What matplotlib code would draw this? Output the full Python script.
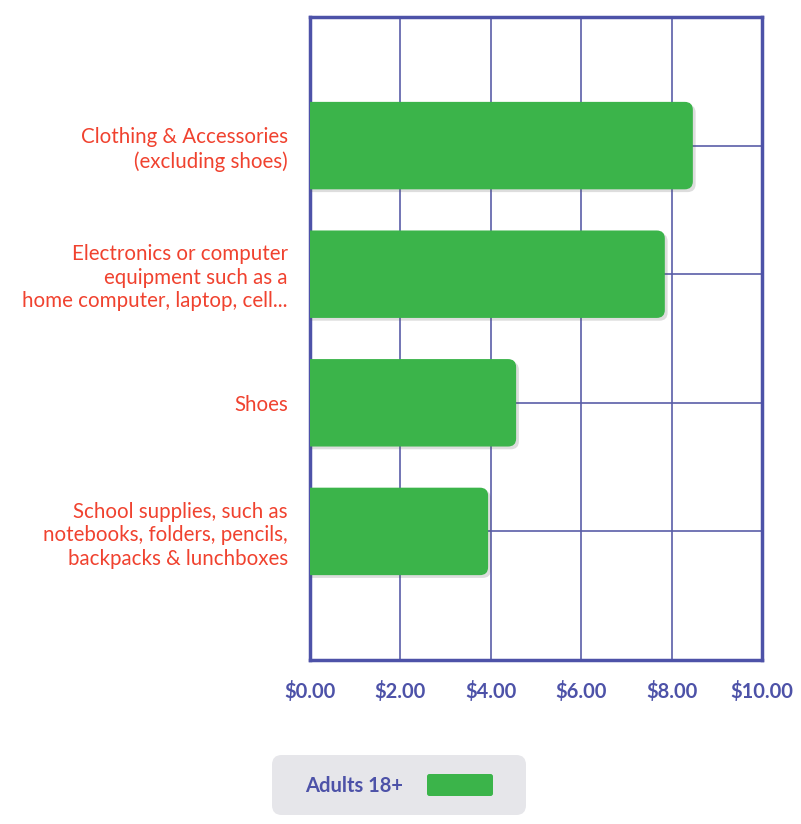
import matplotlib
matplotlib.use("Agg")
import matplotlib.pyplot as plt
from matplotlib.patches import FancyBboxPatch
import matplotlib.patheffects as pe

categories = [
    "Clothing & Accessories\n(excluding shoes)",
    "Electronics or computer\nequipment such as a\nhome computer, laptop, cell...",
    "Shoes",
    "School supplies, such as\nnotebooks, folders, pencils,\nbackpacks & lunchboxes",
]
values = [8.47, 7.85, 4.56, 3.94]
xticks = [0, 2, 4, 6, 8, 10]
xtick_labels = ["$0.00", "$2.00", "$4.00", "$6.00", "$8.00", "$10.00"]
series_name = "Adults 18+"

GREEN = "#3bb44a"
RED = "#f0422f"
BLUE = "#4d52a8"
GRID = "#5a5ea8"

plt.rcParams['font.family'] = ['Lato', 'DejaVu Sans']

fig = plt.figure(figsize=(8.01, 8.24), dpi=100)
W, H = 801, 824
ax = fig.add_axes([310 / W, 1 - 660 / H, (762 - 310) / W, (660 - 17) / H])
ax.set_xlim(0, 10)
ax.set_ylim(4, -1)

bar_h = 0.68
xr = 0.18
yr = 0.062
for i, v in enumerate(values):
    p = FancyBboxPatch((-0.5, i - bar_h / 2), v + 0.5, bar_h,
                       boxstyle=f"round,pad=0,rounding_size={xr}",
                       mutation_aspect=yr / xr,
                       fc=GREEN, ec="none", zorder=3, clip_on=True)
    p.set_path_effects([pe.SimplePatchShadow(offset=(2, -2), alpha=0.2, shadow_rgbFace="#555555"),
                        pe.Normal()])
    ax.add_patch(p)

ax.set_xticks(xticks)
ax.set_xticklabels(xtick_labels, fontsize=14.5, fontweight='bold', color=BLUE)
ax.set_yticks(range(len(categories)))
ax.set_yticklabels(categories, fontsize=14.8, color=RED, linespacing=1.22)
ax.tick_params(axis='both', length=0)
ax.tick_params(axis='x', pad=15)
ax.tick_params(axis='y', pad=16)
ax.grid(True, color=GRID, linewidth=1.2, zorder=1)
for s in ax.spines.values():
    s.set_color(BLUE)
    s.set_linewidth(2.5)

# legend box
box = FancyBboxPatch((272 / W, 1 - 815 / H), (526 - 272) / W, (815 - 755) / H,
                     boxstyle="round,pad=0,rounding_size=0.012",
                     transform=fig.transFigure, fc="#e6e6ea", ec="none")
fig.patches.append(box)
fig.text(305 / W, 1 - 786 / H, series_name, fontsize=14.5, fontweight='bold',
         color=BLUE, va='center', ha='left')
sw = FancyBboxPatch((427 / W, 1 - 796 / H), (493 - 427) / W, (796 - 774) / H,
                    boxstyle="round,pad=0,rounding_size=0.003",
                    transform=fig.transFigure, fc=GREEN, ec="none")
fig.patches.append(sw)

fig.savefig("out.png", dpi=100, facecolor="white")
